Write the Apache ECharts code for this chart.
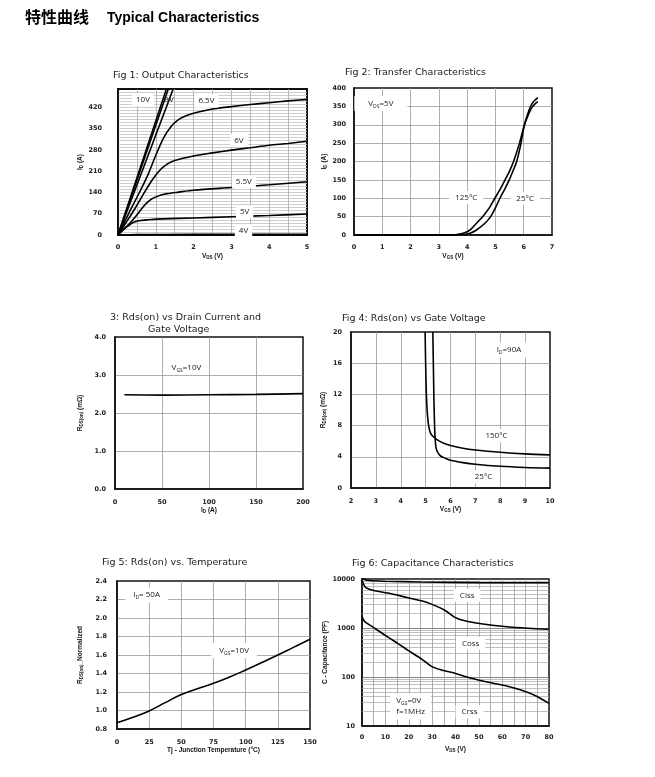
<!DOCTYPE html>
<html><head><meta charset="utf-8">
<script src="https://cdn.jsdelivr.net/npm/echarts@6/dist/echarts.min.js"></script>
<style>html,body{margin:0;padding:0;background:#fff}#c{width:655px;height:777px}</style>
</head><body><div id="c"></div>
<script>
// ---------- DATA ----------
// Fig 1: Output characteristics  [VDS (V), ID (A)]
const fig1_10V = [[0,0],[1.28,480]];
const fig1_8V  = [[0,0],[1.33,480]];
const fig1_7V  = [[0,0],[1.46,480]];
const fig1_6V5 = [[0,0],[0.3,75],[0.6,148],[0.8,200],[1.0,262],[1.2,318],[1.4,356],[1.6,379],[1.8,392],[2.0,400],[2.5,414],[3.0,422],[3.5,429],[4.0,435],[4.5,441],[5.0,446]];
const fig1_6V  = [[0,0],[0.25,48],[0.45,87],[0.7,140],[0.9,180],[1.1,212],[1.3,233],[1.5,245],[2.0,260],[2.5,270],[3.0,279],[3.5,287],[4.0,295],[4.5,301],[5.0,308]];
const fig1_5V5 = [[0,0],[0.2,25],[0.36,45],[0.5,66],[0.63,87],[0.75,104],[0.9,119],[1.1,130],[1.3,136],[1.6,141],[2.0,147],[3.0,156],[4.0,165],[5.0,175]];
const fig1_5V  = [[0,0],[0.15,18],[0.27,30],[0.4,41],[0.55,47],[0.8,50],[1.2,53],[2.0,56],[3.0,60],[4.0,64],[5.0,69]];
const fig1_4V  = [[0,0],[0.5,1.5],[2,2],[5,2.5]];
const fig1XTicks = [0,1,2,3,4,5];
const fig1YTicks = [0,70,140,210,280,350,420];

// Fig 2: Transfer characteristics [VGS (V), ID (A)]
const fig2_125C = [[0,0],[3.4,0],[3.65,1.5],[3.86,4.5],[4.1,13.6],[4.33,32],[4.57,52],[4.8,76],[4.98,100],[5.17,125],[5.34,150],[5.5,174],[5.65,202],[5.85,250],[6.02,298],[6.2,334],[6.3,348],[6.4,357],[6.5,363]];
const fig2_25C  = [[0,0],[3.7,0],[3.9,1.5],[4.1,4.5],[4.33,13.6],[4.63,32],[4.83,50],[5.0,74],[5.16,100],[5.33,125],[5.49,150],[5.62,174],[5.75,200],[5.9,248],[6.02,298],[6.2,342],[6.3,358],[6.4,367],[6.5,374]];

// Fig 3: Rds(on) vs drain current [ID (A), RDS(on) (mOhm)]
const fig3_10V = [[10,2.48],[50,2.47],[100,2.48],[150,2.49],[200,2.51]];

// Fig 4: Rds(on) vs gate voltage [VGS (V), RDS(on) (mOhm)]
const fig4_150C = [[4.98,20],[5.0,16],[5.03,12],[5.07,9.5],[5.12,8],[5.2,7.0],[5.3,6.6],[5.5,6.1],[5.75,5.7],[6.0,5.44],[6.5,5.1],[7,4.88],[8,4.58],[9,4.37],[10,4.25]];
const fig4_25C  = [[5.29,20],[5.31,16],[5.33,12],[5.36,8],[5.39,6],[5.43,5.0],[5.5,4.5],[5.6,4.1],[5.8,3.8],[6.0,3.55],[6.5,3.25],[7,3.04],[8,2.78],[9,2.63],[10,2.55]];

// Fig 5: Rds(on) vs temperature [Tj (C), normalized]
const fig5_10V = [[0,0.868],[12.5,0.928],[25,0.995],[37.5,1.085],[50,1.172],[62.5,1.236],[75,1.294],[87.5,1.362],[100,1.438],[112.5,1.518],[125,1.6],[137.5,1.685],[150,1.77]];

// Fig 6: Capacitance [VDS (V), C (pF)]
const fig6_Ciss = [[0,10800],[1,9800],[3,9300],[10,9000],[25,8700],[50,8450],[80,8400]];
const fig6_Coss = [[0,9500],[1.14,7050],[2.57,6330],[5.43,5760],[11.1,5160],[19.7,4150],[25.4,3600],[29.7,3070],[35.4,2300],[39.7,1650],[44,1400],[51,1220],[61,1075],[71,990],[80,945]];
const fig6_Crss = [[0,1718],[1.1,1360],[5.4,990],[11.1,650],[15.4,480],[19.7,350],[25.4,235],[29.7,165],[34,139],[39.7,119],[46.9,94],[54,78],[61,67],[68,54],[74,42],[80,29]];
const fig6MinorY = [20,30,40,50,60,70,80,90,200,300,400,500,600,700,800,900,2000,3000,4000,5000,6000,7000,8000,9000];

// ---------- STYLE HELPERS ----------
const TICKFONT = {fontFamily:'DejaVu Sans', fontSize:6.5, fontWeight:'bold', color:'#222'};
const NAMEFONT = {fontFamily:'Liberation Sans', fontSize:6.5, fontWeight:'bold', color:'#111',
  rich:{n:{fontFamily:'Liberation Sans', fontSize:6.5, fontWeight:'bold', color:'#111'},
        s:{fontFamily:'Liberation Sans', fontSize:4.5, fontWeight:'bold', color:'#111', verticalAlign:'bottom', padding:[3,0,0,0]}}};
const NOTERICH = {n:{fontFamily:'Open Sans', fontSize:8, color:'#222', lineHeight:11},
                  s:{fontFamily:'Open Sans', fontSize:5, color:'#222', verticalAlign:'bottom', padding:[4,0,0,0]}};
const GRIDLINE = {show:true, showMinLine:false, showMaxLine:false, lineStyle:{color:'#9a9a9a', width:0.8}};

function gridDef(left, top, width, height, bw){
  return {left, top, width, height, show:true, borderColor:'#111', borderWidth:bw, backgroundColor:'#fff', containLabel:false};
}
function axisDef(gi, o){
  const base = {type:'value', gridIndex:gi,
    axisLine:{show:true, onZero:false, lineStyle:{color:'#111', width:1.5}},
    axisTick:{show:false}, splitLine:GRIDLINE,
    axisLabel:Object.assign({}, TICKFONT, {margin:8}),
    nameLocation:'middle', nameTextStyle:NAMEFONT};
  const r = Object.assign({}, base, o);
  if (o.axisLabel) r.axisLabel = Object.assign({}, base.axisLabel, o.axisLabel);
  return r;
}
function note(coord, text, bg, extra){
  return {coord, value:0, label:Object.assign({show:true, formatter:text, rich:NOTERICH,
    backgroundColor: bg ? '#fff' : 'transparent', padding:[1,4], color:'#222'}, extra||{})};
}
function line(name, xi, data, notes, extra){
  const s = {type:'line', name, xAxisIndex:xi, yAxisIndex:xi, data, showSymbol:false, symbol:'none',
    smooth:0.3, lineStyle:{color:'#000', width:1.6}, itemStyle:{color:'#000'}, z:3};
  if (notes) s.markPoint = {symbol:'rect', symbolSize:[1,1], itemStyle:{color:'rgba(0,0,0,0)'}, silent:true, z:5, data:notes};
  return Object.assign(s, extra||{});
}
const near = (arr, v) => arr.some(t => Math.abs(t - v) < 1e-6);

const titleStyle = {fontFamily:'DejaVu Sans', fontSize:9.5, fontWeight:'normal', color:'#1a1a1a'};

const option = {
  animation:false,
  backgroundColor:'#fff',
  title:[
    {text:'特性曲线', left:25, top:9, padding:0, textStyle:{fontFamily:'Noto Sans CJK SC', fontSize:16, fontWeight:'bold', color:'#000'}},
    {text:'Typical Characteristics', left:107, top:11, padding:0, textStyle:{fontFamily:'Liberation Sans', fontSize:14, fontWeight:'bold', color:'#000'}},
    {text:'Fig 1: Output Characteristics', left:113, top:71, padding:0, textStyle:titleStyle},
    {text:'Fig 2: Transfer Characteristics', left:345, top:68, padding:0, textStyle:titleStyle},
    {text:'3: Rds(on) vs Drain Current and', left:110, top:313, padding:0, textStyle:titleStyle},
    {text:'Gate Voltage', left:148, top:325, padding:0, textStyle:titleStyle},
    {text:'Fig 4: Rds(on) vs Gate Voltage', left:342, top:314, padding:0, textStyle:titleStyle},
    {text:'Fig 5: Rds(on) vs. Temperature', left:102, top:558, padding:0, textStyle:titleStyle},
    {text:'Fig 6: Capacitance Characteristics', left:352, top:559, padding:0, textStyle:titleStyle}
  ],
  grid:[
    gridDef(118, 89, 189, 146, 2),
    gridDef(354, 88, 198, 147, 1.5),
    gridDef(115, 337, 188, 152, 1.5),
    gridDef(351, 332, 199, 156, 1.5),
    gridDef(117, 581, 193, 148, 1.5),
    gridDef(362, 579, 187, 147, 1.5)
  ],
  xAxis:[
    axisDef(0, {min:0, max:5, interval:0.5, name:'{n|V}{s|DS}{n| (V)}', nameGap:17,
      splitLine:{show:true, showMinLine:false, showMaxLine:false, lineStyle:{color:'#a8a8a8', width:0.8}},
      axisLabel:{margin:9, formatter:v => near(fig1XTicks, v) ? String(Math.round(v)) : ''}}),
    axisDef(1, {min:0, max:7, interval:1, name:'{n|V}{s|GS}{n| (V)}', nameGap:17, axisLabel:{margin:9}}),
    axisDef(2, {min:0, max:200, interval:50, name:'{n|I}{s|D}{n| (A)}', nameGap:14, axisLabel:{margin:10}}),
    axisDef(3, {min:2, max:10, interval:1, name:'{n|V}{s|GS}{n| (V)}', nameGap:17, axisLabel:{margin:10}}),
    axisDef(4, {min:0, max:150, interval:25, name:'Tj - Junction Temperature (°C)', nameGap:17, axisLabel:{margin:10}}),
    axisDef(5, {min:0, max:80, interval:10, name:'{n|V}{s|DS}{n| (V)}', nameGap:19, axisLabel:{margin:8},
      minorTick:{show:false, splitNumber:2}, minorSplitLine:{show:true, lineStyle:{color:'#9a9a9a', width:0.8}}})
  ],
  yAxis:[
    axisDef(0, {min:0, max:480, interval:10, name:'{n|I}{s|D}{n| (A)}', nameGap:20,
      splitLine:{show:true, showMinLine:false, showMaxLine:false, lineStyle:{color:'#c2c2c2', width:0.8}},
      axisLabel:{margin:16, formatter:v => fig1YTicks.includes(Math.round(v)) ? String(Math.round(v)) : ''}}),
    axisDef(1, {min:0, max:400, interval:50, name:'{n|I}{s|D}{n| (A)}', nameGap:22, axisLabel:{margin:8}}),
    axisDef(2, {min:0, max:4, interval:1, name:'{n|R}{s|DS(on)}{n| (mΩ)}', nameGap:31, axisLabel:{margin:9, formatter:v => v.toFixed(1)}}),
    axisDef(3, {min:0, max:20, interval:4, name:'{n|R}{s|DS(on)}{n| (mΩ)}', nameGap:24, axisLabel:{margin:9}}),
    axisDef(4, {min:0.8, max:2.4, interval:0.2, name:'{n|R}{s|DS(on)}{n|_Normalized}', nameGap:33, axisLabel:{margin:10, formatter:v => v.toFixed(1)}}),
    axisDef(5, {type:'log', logBase:10, min:10, max:10000, name:'C - Capacitance (PF)', nameGap:29,
      axisLabel:{margin:7, formatter:v => String(Math.round(v))},
      splitLine:{show:true, showMinLine:false, showMaxLine:false, lineStyle:{color:'#777', width:0.9}}})
  ],
  series:[
    // Fig 1
    line('10V', 0, fig1_10V, [
      note([0.66,445], '{n|10V}', true),
      note([1.35,445], '{n|8V}', false)
    ]),
    line('8V', 0, fig1_8V),
    line('7V', 0, fig1_7V),
    line('6.5V', 0, fig1_6V5, [note([2.34,440], '{n|6.5V}', true)]),
    line('6V', 0, fig1_6V, [note([3.2,311], '{n|6V}', true)]),
    line('5.5V', 0, fig1_5V5, [note([3.33,176], '{n|5.5V}', true)]),
    line('5V', 0, fig1_5V, [note([3.35,77], '{n|5V}', true)]),
    line('4V', 0, fig1_4V, [note([3.32,13], '{n|4V}', true)]),
    // Fig 2
    line('125°C', 1, fig2_125C, [
      note([0.95,358], '{n|V}{s|DS}{n|=5V}', true, {padding:[2,14]}),
      note([3.97,102], '{n|125°C}', true, {padding:[1,6]})
    ]),
    line('25°C', 1, fig2_25C, [note([6.05,100], '{n|25°C}', true, {padding:[1,6]})]),
    // Fig 3
    line('VGS=10V', 2, fig3_10V, [note([76,3.19], '{n|V}{s|GS}{n|=10V}', true, {padding:[1,6]})]),
    // Fig 4
    line('150°C', 3, fig4_150C, [
      note([8.35,17.7], '{n|I}{s|D}{n|=90A}', true, {padding:[2,6]}),
      note([7.85,6.7], '{n|150°C}', true)
    ]),
    line('25°C ', 3, fig4_25C, [note([7.33,1.4], '{n|25°C}', true)]),
    // Fig 5
    line('ID=50A', 4, fig5_10V, [
      note([23,2.25], '{n|I}{s|D}{n|= 50A}', true, {padding:[2,8]}),
      note([91,1.65], '{n|V}{s|GS}{n|=10V}', true, {padding:[2,8]})
    ], {smooth:0.45}),
    // Fig 6
    line('Ciss', 5, fig6_Ciss, [note([45,4630], '{n|Ciss}', true, {padding:[1,6]})], {
      markLine:{silent:true, symbol:'none', z:1, label:{show:false},
        lineStyle:{color:'#a5a5a5', width:0.7, type:'solid'},
        data:fig6MinorY.map(v => ({yAxis:v}))}
    }),
    line('Coss', 5, fig6_Coss, [note([46.5,488], '{n|Coss}', true, {padding:[1,6]})]),
    line('Crss', 5, fig6_Crss, [
      note([46,19.5], '{n|Crss}', true, {padding:[1,6]}),
      note([12.1,25], '{n|V}{s|GS}{n|=0V}\n{n|f=1MHz}', true, {padding:[2,6], align:'left'})
    ])
  ]
};
const chart = echarts.init(document.getElementById('c'), null, {renderer:'canvas'});
chart.setOption(option);
</script></body></html>
